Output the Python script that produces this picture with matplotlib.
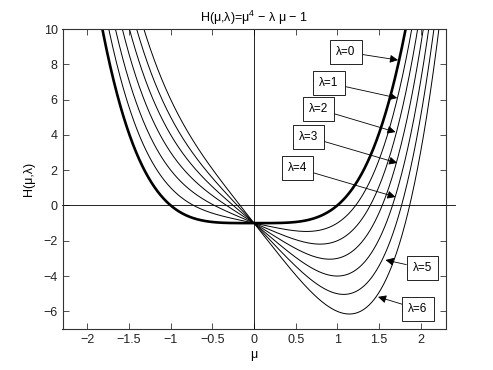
import numpy as np
import matplotlib
matplotlib.use("Agg")
import matplotlib.pyplot as plt

plt.rcParams['font.family'] = ['Liberation Sans', 'DejaVu Sans']
plt.rcParams['mathtext.fontset'] = 'custom'
plt.rcParams['mathtext.rm'] = 'Liberation Sans'

lambdas = [0, 1, 2, 3, 4, 5, 6]
mu = np.linspace(-2.3, 2.3, 1001)

labels = ['λ=0', 'λ=1', 'λ=2', 'λ=3', 'λ=4', 'λ=5', 'λ=6']
tip_x = [1.73, 1.72, 1.70, 1.72, 1.70, 1.58, 1.49]
tip_y = [8.24, 6.09, 4.16, 2.41, 0.48, -3.09, -5.18]
txt_x = [1.105, 0.90, 0.77, 0.66, 0.52, 2.02, 1.97]
txt_y = [8.70, 6.94, 5.47, 3.88, 2.12, -3.55, -5.87]

xticks = [-2, -1.5, -1, -0.5, 0, 0.5, 1, 1.5, 2]
xticklabels = ['\u22122', '\u22121.5', '\u22121', '\u22120.5', '0', '0.5', '1', '1.5', '2']
yticks = [-6, -4, -2, 0, 2, 4, 6, 8, 10]
yticklabels = ['\u22126', '\u22124', '\u22122', '0', '2', '4', '6', '8', '10']

fig = plt.figure(figsize=(4.93, 3.70), dpi=100)
ax = fig.add_axes([62.5/493, 1-329/370, (445.5-62.5)/493, 300/370])

for lam in lambdas:
    H = mu**4 - lam*mu - 1
    ax.plot(mu, H, color='black', lw=1.9 if lam == 0 else 0.7)

ax.plot([0, 0], [-7, 10], color='black', lw=0.6)
ax.plot([-2.3, 2.42], [0, 0], color='black', lw=0.6, clip_on=False)

ax.set_xlim(-2.3, 2.3)
ax.set_ylim(-7, 10)
ax.set_xticks(xticks)
ax.set_xticklabels(xticklabels)
ax.set_yticks(yticks)
ax.set_yticklabels(yticklabels)
ax.tick_params(direction='in', top=True, right=True, labelsize=9, length=4, width=0.6,
               color='#333333', labelcolor='#222222')
for s in ax.spines.values():
    s.set_linewidth(0.8)
    s.set_color('#333333')

for lab, tx, ty, px, py in zip(labels, txt_x, txt_y, tip_x, tip_y):
    ax.annotate(lab, xy=(px, py), xytext=(tx, ty), fontsize=8.5,
                ha='center', va='center',
                bbox=dict(boxstyle='square,pad=0.5', fc='white', ec='black', lw=0.6),
                arrowprops=dict(arrowstyle='-|>', color='black', lw=0.6,
                                mutation_scale=12, shrinkA=0, shrinkB=0))

ax.set_xlabel('μ', fontsize=9, labelpad=2)
ax.set_ylabel('H(μ,λ)', fontsize=9, labelpad=6)
ax.set_title('H(μ,λ)=μ$^4$ \u2212 λ μ \u2212 1', fontsize=9, pad=5)

fig.savefig('out.png', dpi=100)
